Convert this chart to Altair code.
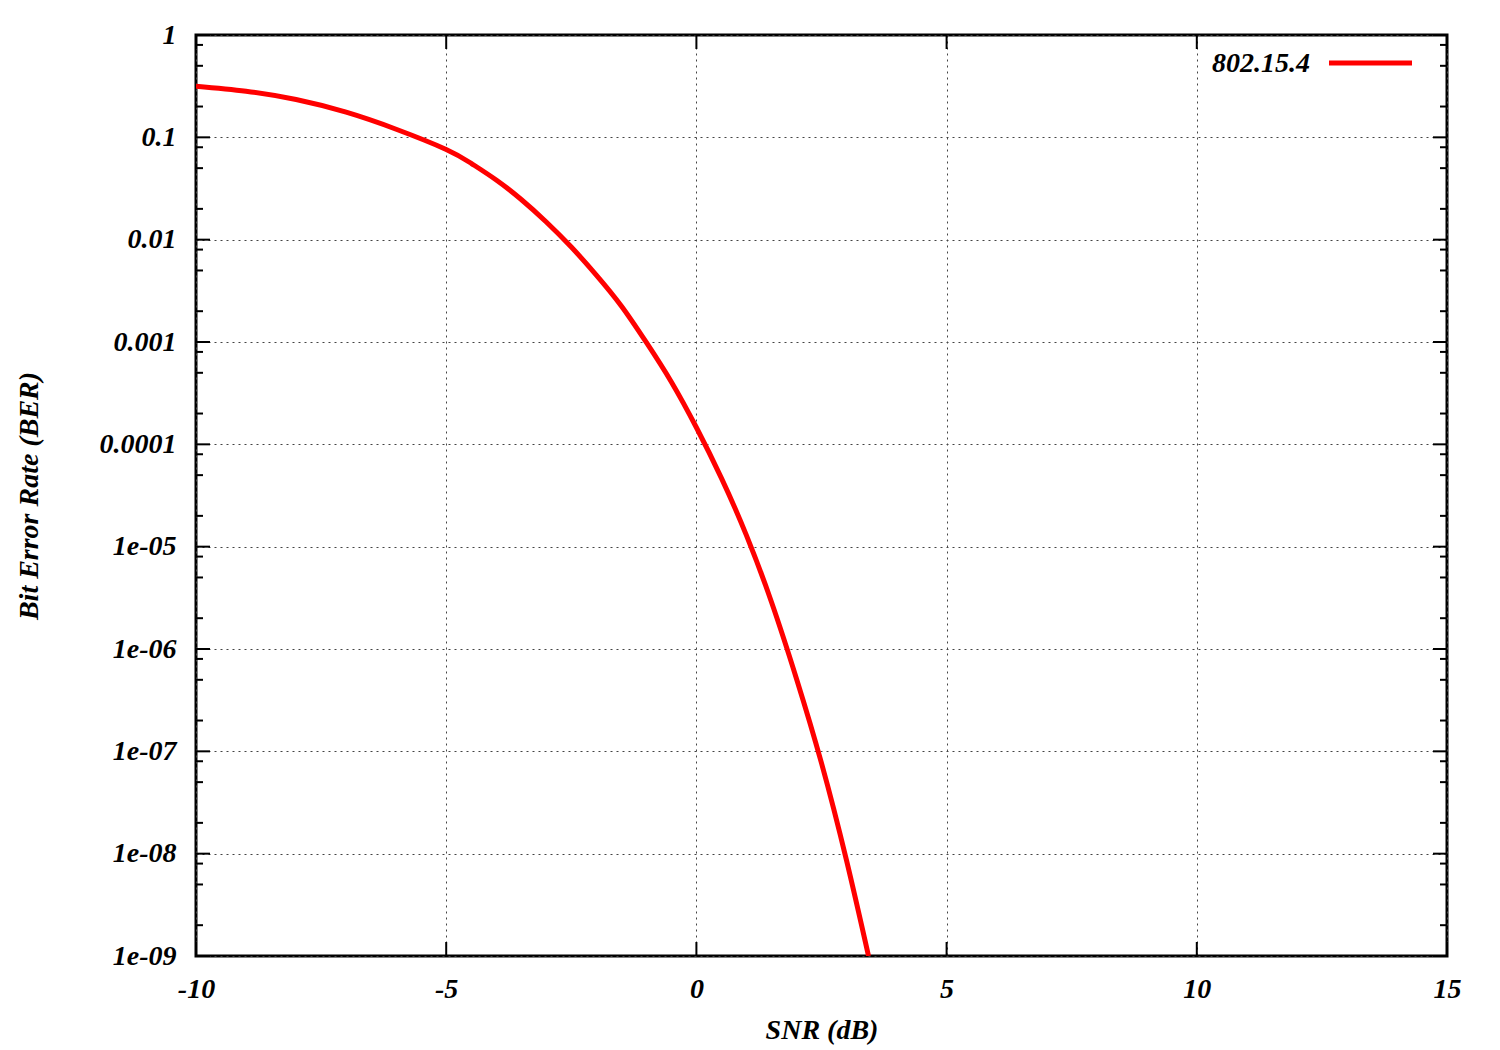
import altair as alt
import pandas as pd

# ---- data ----
series_name = "802.15.4"
snr_db = [-10, -9, -8, -7, -6, -5, -4.5, -4, -3.5, -3, -2.5, -2, -1.5, -1, -0.5,
          0, 0.5, 1, 1.5, 2, 2.5, 3, 3.44]
ber = [0.316, 0.282, 0.234, 0.176, 0.120, 0.0762, 0.0557, 0.0383, 0.0247, 0.0149,
       0.00847, 0.00451, 0.00225, 0.00099, 4.07e-4, 1.46e-4, 4.68e-5, 1.29e-5,
       2.88e-6, 5.13e-7, 7.67e-8, 8.6e-9, 1.0e-9]

x_ticks = [-10, -5, 0, 5, 10, 15]
y_major = [1, 0.1, 0.01, 0.001, 0.0001, 1e-05, 1e-06, 1e-07, 1e-08, 1e-09]
y_minor_mult = [2, 5, 8]

W, H = 1251, 921
FONT = "Liberation Serif"

df = pd.DataFrame({"snr": snr_db, "ber": ber, "series": series_name})
minor_vals = [m * v for v in y_major[1:] for m in y_minor_mult]
df_ymaj = pd.DataFrame({"ber": y_major})
df_ymin = pd.DataFrame({"ber": minor_vals})
df_x = pd.DataFrame({"snr": x_ticks})
df_leg = pd.DataFrame({"series": [series_name]})

xscale = alt.Scale(domain=[-10, 15], nice=False, zero=False)
yscale = alt.Scale(type="log", domain=[1e-9, 1], nice=False)

xaxis = alt.Axis(values=x_ticks, labelExpr="toString(datum.value)",
                 grid=True, gridDash=[2, 4], gridColor="#444", gridWidth=1,
                 ticks=False, domain=False, labelFlush=False, labelOverlap=False,
                 labelPadding=19, labelFontSize=28,
                 titleX=W / 2, titleY=82, titleBaseline="alphabetic",
                 titleAlign="center")
yaxis = alt.Axis(values=y_major,
                 labelExpr="datum.value >= 0.0001 ? toString(datum.value) : '1e-0' + toString(round(-log(datum.value)/LN10))",
                 grid=True, gridDash=[2, 4], gridColor="#444", gridWidth=1,
                 ticks=False, domain=False, labelFlush=False, labelOverlap=False,
                 labelPadding=20, labelFontSize=28,
                 titleX=-159, titleY=H / 2, titleBaseline="alphabetic",
                 titleAlign="center")
XT = "SNR (dB)"
YT = "Bit Error Rate (BER)"

line = alt.Chart(df).mark_line(color="#ff0000", strokeWidth=5, clip=True,
                               interpolate="natural").encode(
    x=alt.X("snr:Q", scale=xscale, title=XT, axis=xaxis),
    y=alt.Y("ber:Q", scale=yscale, title=YT, axis=yaxis),
)

def yrule(data, x0, x1):
    return alt.Chart(data).mark_rule(color="black", strokeWidth=2).encode(
        y=alt.Y("ber:Q", scale=yscale, title=YT, axis=yaxis),
        x=alt.value(x0), x2=alt.value(x1))

def xrule(y0, y1):
    return alt.Chart(df_x).mark_rule(color="black", strokeWidth=2).encode(
        x=alt.X("snr:Q", scale=xscale, title=XT, axis=xaxis),
        y=alt.value(y0), y2=alt.value(y1))

ticks = [
    yrule(df_ymaj, 0, 14), yrule(df_ymaj, W - 14, W),
    yrule(df_ymin, 0, 7), yrule(df_ymin, W - 7, W),
    xrule(H - 14, H), xrule(0, 14),
]

leg_text = alt.Chart(df_leg).mark_text(align="right", baseline="alphabetic",
                                       font=FONT, fontSize=28, fontStyle="italic",
                                       fontWeight="bold", color="black").encode(
    text="series:N", x=alt.value(1114), y=alt.value(37))
leg_line = alt.Chart(df_leg).mark_rule(color="#ff0000", strokeWidth=5).encode(
    x=alt.value(1133), x2=alt.value(1216), y=alt.value(28))

chart = alt.layer(line, *ticks, leg_text, leg_line).properties(
    width=W, height=H,
    background="white",
    autosize=alt.AutoSizeParams(type="none"),
    padding={"left": 188, "top": 27, "right": 45, "bottom": 92},
).configure_view(stroke="black", strokeWidth=3).configure_axis(
    labelFont=FONT, labelFontStyle="italic", labelFontWeight="bold", labelColor="black",
    titleFont=FONT, titleFontStyle="italic", titleFontWeight="bold", titleColor="black",
    titleFontSize=28,
)

chart.save("out.html", embed_options={"renderer": "svg", "actions": False})
